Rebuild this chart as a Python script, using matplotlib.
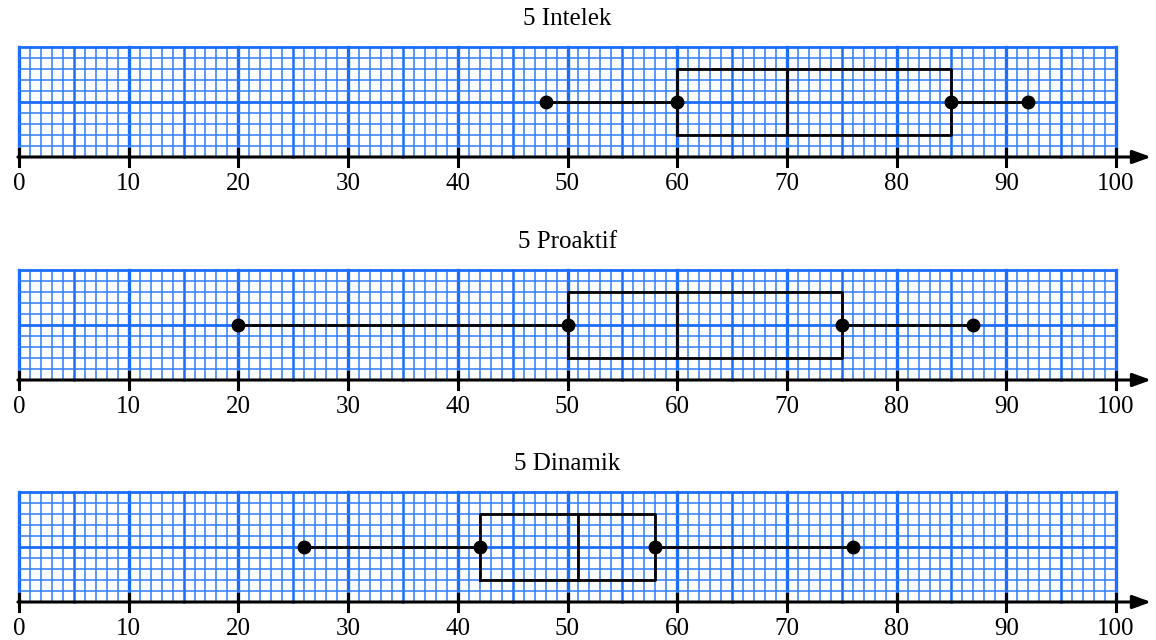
import matplotlib
matplotlib.use("Agg")
import matplotlib.pyplot as plt
import numpy as np

titles = ["5 Intelek", "5 Proaktif", "5 Dinamik"]
mins = [48, 20, 26]
q1s = [60, 50, 42]
medians = [70, 60, 51]
q3s = [85, 75, 58]
maxs = [92, 87, 76]
tick_values = [0, 10, 20, 30, 40, 50, 60, 70, 80, 90, 100]

plt.rcParams['font.family'] = ['Liberation Serif', 'DejaVu Serif']

W, H = 1156, 640
fig = plt.figure(figsize=(W / 100, H / 100), dpi=100)

x0px, x100px = 19, 1116
ppu = (x100px - x0px) / 100.0
xlim = (-x0px / ppu, (W - x0px) / ppu)
axis_px = [157, 380, 602]
blue = '#1a6dff'
lightblue = '#2f7dff'

band = H / 3.0
for i in range(3):
    top_px = i * band
    bot_px = (i + 1) * band
    ax = fig.add_axes([0, 1 - (i + 1) / 3.0, 1, 1 / 3.0])
    ax.set_xlim(*xlim)
    ylo = -(bot_px - axis_px[i]) / ppu
    yhi = (axis_px[i] - top_px) / ppu
    ax.set_ylim(ylo, yhi)
    ax.axis('off')

    # grid
    for xv in range(0, 101):
        if xv % 10 == 0:
            ax.plot([xv, xv], [0, 10], color=blue, lw=2.4, zorder=1)
        elif xv % 5 == 0:
            ax.plot([xv, xv], [0, 10], color=blue, lw=1.8, zorder=1)
        else:
            ax.plot([xv, xv], [0, 10], color=lightblue, lw=1.1, zorder=1)
    for yv in range(0, 11):
        if yv in (5, 10):
            ax.plot([0, 100], [yv, yv], color=blue, lw=2.0, zorder=1)
        else:
            ax.plot([0, 100], [yv, yv], color=lightblue, lw=1.1, zorder=1)

    # axis with arrow
    ax.annotate('', xy=(103.2, 0), xytext=(-0.1, 0),
                arrowprops=dict(arrowstyle='-|>,head_length=1.1,head_width=0.4',
                                color='black', lw=2.2, shrinkA=0, shrinkB=0),
                zorder=4)
    for t in tick_values:
        ax.plot([t, t], [-0.8, 0.75], color='black', lw=2.2, zorder=4)
        ax.text(t, -3.05, str(t), ha='center', va='baseline', fontsize=18, zorder=4)

    ax.text(50, 12.6, titles[i], ha='center', va='center', fontsize=18)

    # box plot
    ax.plot([mins[i], q1s[i]], [5, 5], color='black', lw=2.0, zorder=5)
    ax.plot([q3s[i], maxs[i]], [5, 5], color='black', lw=2.0, zorder=5)
    ax.plot([q1s[i], q3s[i], q3s[i], q1s[i], q1s[i]], [2, 2, 8, 8, 2],
            color='black', lw=2.0, zorder=5)
    ax.plot([medians[i], medians[i]], [2, 8], color='black', lw=2.0, zorder=5)
    ax.plot([mins[i], q1s[i], q3s[i], maxs[i]], [5, 5, 5, 5], 'o',
            color='black', ms=9, zorder=6)

fig.savefig('out.png', dpi=100)
